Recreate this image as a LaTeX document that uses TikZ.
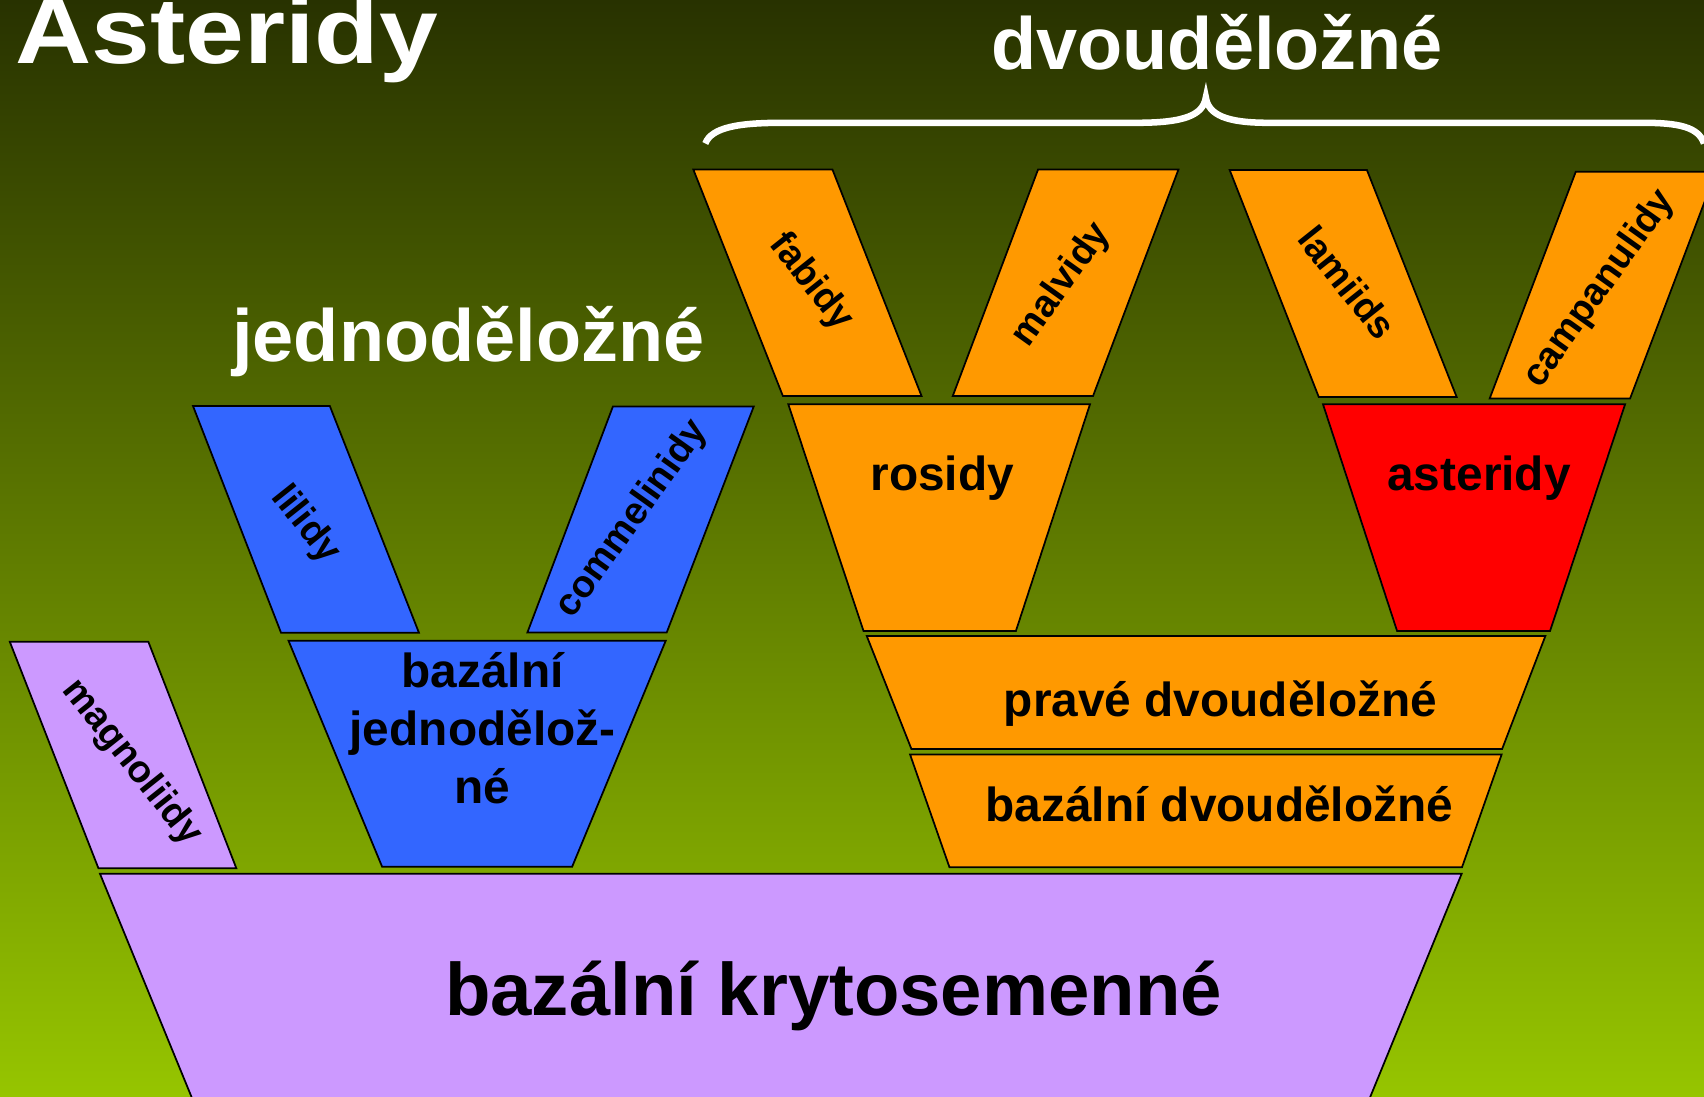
\documentclass[tikz,border=0pt]{standalone}
\usepackage{fontspec}
\setmainfont{Liberation Sans}
\definecolor{bgtop}{RGB}{40,50,0}
\definecolor{bgbot}{RGB}{150,197,0}
\definecolor{lav}{RGB}{204,153,255}
\definecolor{blu}{RGB}{51,102,255}
\definecolor{ora}{RGB}{255,153,0}
\definecolor{redc}{RGB}{255,0,0}
\begin{document}
\begin{tikzpicture}[x=1pt,y=-1pt,
  shapebox/.style={draw=black,line width=1.6pt,line join=miter},
  lbl/.style={font=\bfseries\fontsize{44}{53}\selectfont,inner sep=0pt,anchor=base,align=center,text=black},
  biglbl/.style={font=\bfseries\fontsize{68.4}{80}\selectfont,inner sep=0pt,anchor=base,text=black},
  slantlbl/.style={font=\bfseries\fontsize{35}{42}\selectfont,inner sep=0pt,text=black},
  ttl/.style={font=\bfseries\fontsize{68}{80}\selectfont,inner sep=0pt,anchor=base,text=white}]
\useasboundingbox (0,0) rectangle (1568,1009);
\clip (0,0) rectangle (1568,1009);
\shade[top color=bgtop,bottom color=bgbot] (0,0) rectangle (1568,1009);

% base
\filldraw[shapebox,fill=lav] (92,804) -- (1345,804) -- (1256.5,1020) -- (180.6,1020) -- cycle;
\node[biglbl] (tkry) at (767,934) {bazální krytosemenné};

% magnoliidy
\filldraw[shapebox,fill=lav] (9,590.5) -- (136.5,590.5) -- (217.5,799) -- (90.6,799) -- cycle;
\node[slantlbl,rotate=-51.5] (tmag) at (121,702) {magnoliidy};

% monocots
\filldraw[shapebox,fill=blu] (177.6,373.6) -- (303.5,373.6) -- (385.5,582.2) -- (258.6,582.2) -- cycle;
\node[slantlbl,rotate=-51.5] (tlil) at (281,483) {lilidy};
\filldraw[shapebox,fill=blu] (564,374) -- (693.6,374) -- (613.5,582) -- (485.3,582) -- cycle;
\node[slantlbl,rotate=54.5] (tcom) at (582,478) {commelinidy};
\filldraw[shapebox,fill=blu] (265.5,589.6) -- (612.6,589.6) -- (526.5,797.5) -- (351.6,797.5) -- cycle;
\node[lbl] (tbj1) at (444,633) {bazální};
\node[lbl] (tbj2) at (444,686) {jednodělož-};
\node[lbl] (tbj3) at (444,739) {né};

% eudicots
\filldraw[shapebox,fill=ora] (797.6,585.3) -- (1422,585.3) -- (1382.2,689.3) -- (838.7,689.3) -- cycle;
\node[lbl] (tpr) at (1123,659.5) {pravé dvouděložné};
\filldraw[shapebox,fill=ora] (837.4,694.2) -- (1381.8,694.2) -- (1345.3,798.1) -- (873.7,798.1) -- cycle;
\node[lbl] (tbd) at (1122,756) {bazální dvouděložné};

\filldraw[shapebox,fill=ora] (725.4,372) -- (1003,372) -- (934.8,580.7) -- (794.6,580.7) -- cycle;
\node[lbl] (tros) at (867,451) {rosidy};
\filldraw[shapebox,fill=redc] (1217.4,372) -- (1495.4,372) -- (1426.3,580.7) -- (1285.6,580.7) -- cycle;
\node[lbl] (tast) at (1361,451) {asteridy};

\filldraw[shapebox,fill=ora] (638,156) -- (766,156) -- (848,364.4) -- (720.4,364.4) -- cycle;
\node[slantlbl,rotate=-51.5] (tfab) at (746,260) {fabidy};
\filldraw[shapebox,fill=ora] (955.2,156) -- (1084.4,156) -- (1005.8,364.4) -- (876.7,364.4) -- cycle;
\node[slantlbl,rotate=54.5] (tmal) at (977,262) {malvidy};
\filldraw[shapebox,fill=ora] (1131.5,156.4) -- (1257.8,156.4) -- (1340.4,365.3) -- (1213.5,365.3) -- cycle;
\node[slantlbl,rotate=-51.5] (tlam) at (1240,260) {lamiids};
\filldraw[shapebox,fill=ora] (1450,158) -- (1579,158) -- (1500,366.6) -- (1370.8,366.6) -- cycle;
\node[slantlbl,rotate=54.5] (tcam) at (1472,266) {campanulidy};

% brace
\draw[white,line width=6pt] (649,132) .. controls (655,117) and (680,113) .. (720,113) -- (1046,113)
  .. controls (1090,113) and (1107,106) .. (1109.6,89.6)
  .. controls (1112,106) and (1129,113) .. (1167,113) -- (1512,113)
  .. controls (1545,113) and (1563,117) .. (1568,132);

% titles
\node[ttl] (tdv) at (1120,64.4) {dvouděložné};
\node[ttl] (tjed) at (431,333) {jednoděložné};
\node[ttl,anchor=base west,font=\bfseries\fontsize{86}{96}\selectfont] (ttitle) at (13.8,58.5) {\scalebox{1.13}[1]{Asteridy}};
\end{tikzpicture}
\end{document}
